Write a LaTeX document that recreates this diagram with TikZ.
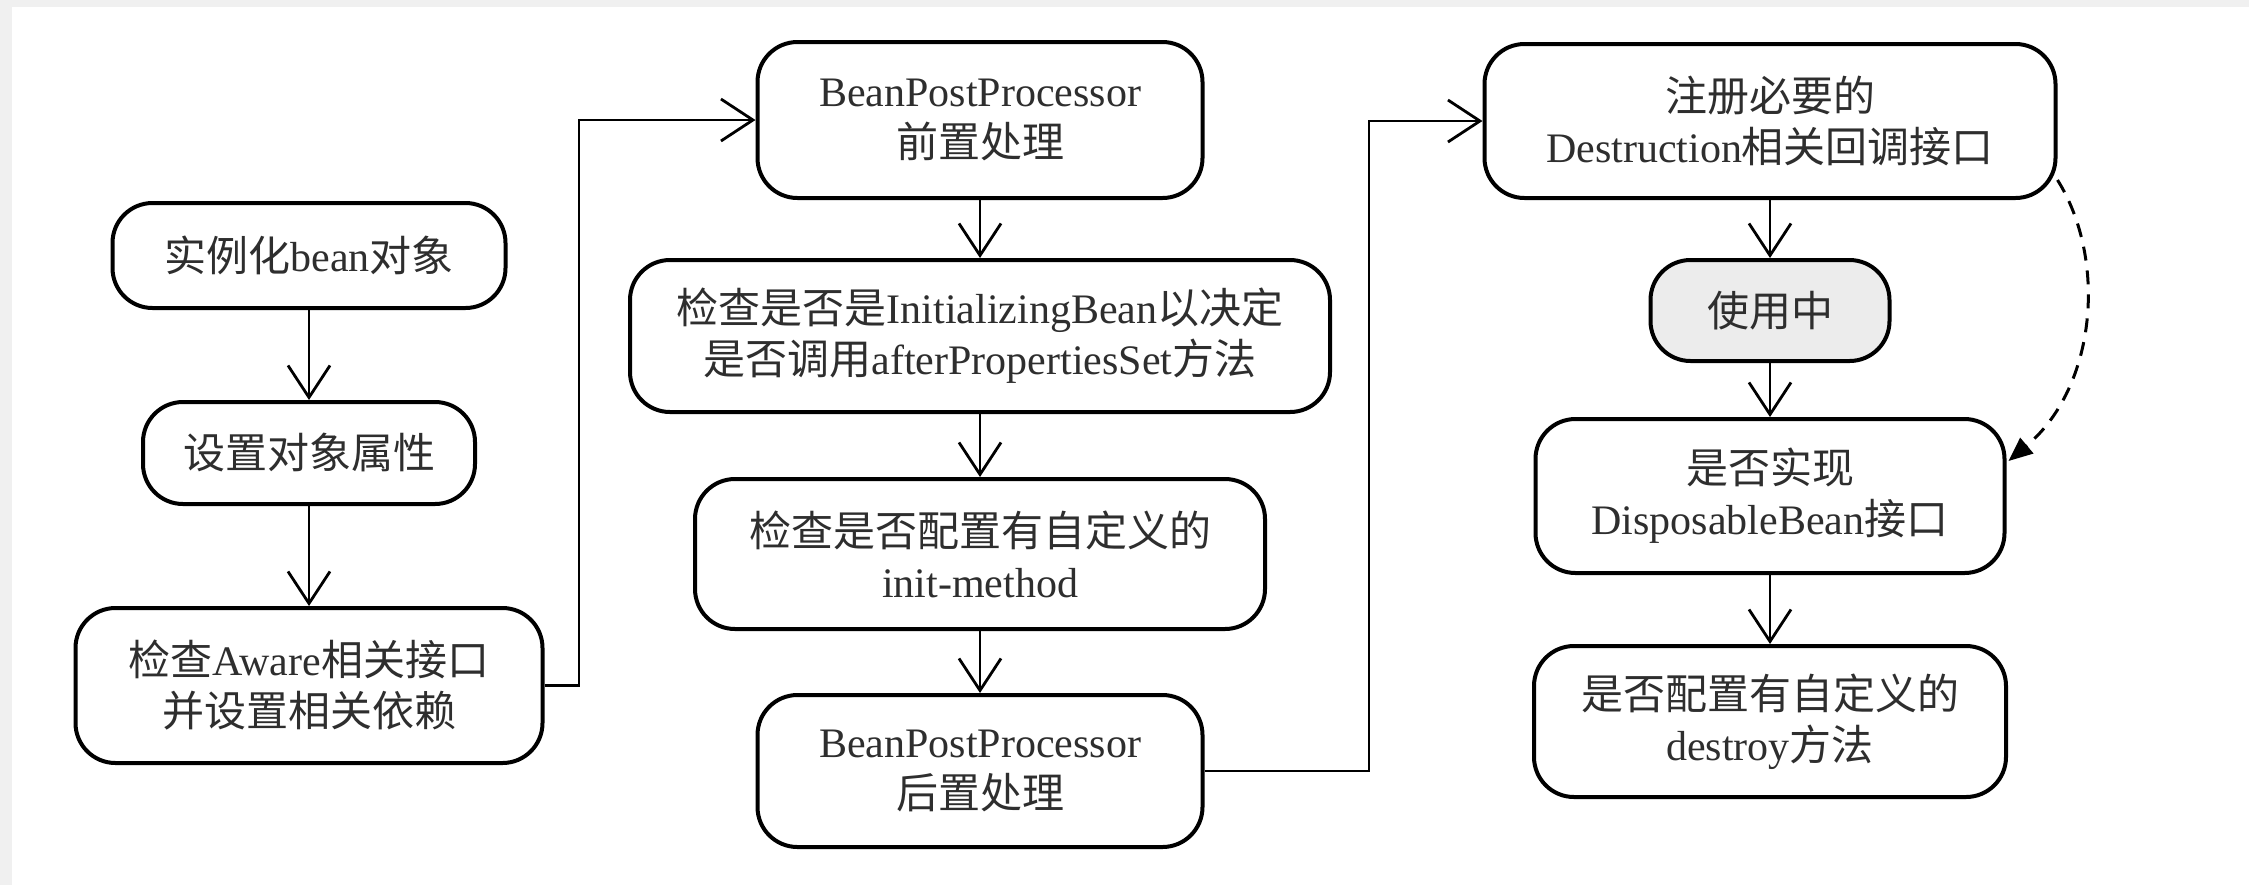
\documentclass[tikz,border=0pt]{standalone}
\usepackage{fontspec}
\setmainfont{Liberation Serif}
\newfontfamily\cjk{Noto Sans CJK SC}
\newcommand\zh[1]{{\cjk #1}}
\usetikzlibrary{arrows.meta,calc}
\begin{document}
\begin{tikzpicture}[x=0.5pt,y=-0.5pt,
  box/.style={draw, line width=2pt, rounded corners=20pt, align=center,
    inner sep=0pt, text=black!82, font=\fontsize{21}{25.5}\selectfont},
  arr/.style={line width=1.4pt, -{Straight Barb[length=16pt,width=21pt,line width=1.4pt]}},
  link/.style={line width=1.4pt},
  dasharr/.style={line width=1.5pt, dash pattern=on 7pt off 5pt, -{Triangle[length=12pt,width=10pt]}}]
\fill[gray!12] (0,0) rectangle (2249,885);
\fill[white] (12,7) rectangle (2249,885);
\useasboundingbox (0,0) rectangle (2249,885);

% left column
\node[box, minimum width=196.5pt, minimum height=52.5pt] (A) at (309,255.5) {\zh{实例化}bean\zh{对象}};
\node[box, minimum width=166pt, minimum height=51pt] (B) at (309,453) {\zh{设置对象属性}};
\node[box, minimum width=233.5pt, minimum height=77.5pt] (C) at (309,685.5) {\zh{检查}Aware\zh{相关接口}\\\zh{并设置相关依赖}};

% middle column
\node[box, minimum width=222.5pt, minimum height=78pt] (D) at (980,120) {BeanPostProcessor\\\zh{前置处理}};
\node[box, minimum width=350pt, minimum height=76pt] (E) at (980,336) {\zh{检查是否是}InitializingBean\zh{以决定}\\\zh{是否调用}afterPropertiesSet\zh{方法}};
\node[box, minimum width=285pt, minimum height=75pt] (F) at (980,554) {\zh{检查是否配置有自定义的}\\init-method};
\node[box, minimum width=222.5pt, minimum height=76pt] (G) at (980,771) {BeanPostProcessor\\\zh{后置处理}};

% right column
\node[box, minimum width=285.5pt, minimum height=77pt] (H) at (1770,121) {\zh{注册必要的}\\Destruction\zh{相关回调接口}};
\node[box, fill=gray!15, minimum width=119.5pt, minimum height=50.5pt] (I) at (1770,310.5) {\zh{使用中}};
\node[box, minimum width=234.5pt, minimum height=77pt] (J) at (1770,496) {\zh{是否实现}\\DisposableBean\zh{接口}};
\node[box, minimum width=236pt, minimum height=75.5pt] (K) at (1770,721.5) {\zh{是否配置有自定义的}\\destroy\zh{方法}};

% connectors
\draw[arr] (A.south) -- (B.north);
\draw[arr] (B.south) -- (C.north);
\draw[arr] (C.east) -- ++(34.5,0) |- (D.west);
\draw[arr] (D.south) -- (E.north);
\draw[arr] (E.south) -- (F.north);
\draw[arr] (F.south) -- (G.north);
\draw[arr] (G.east) -- ++(164.5,0) |- (H.west);
\draw[arr] (H.south) -- (I.north);
\draw[arr] (I.south) -- (J.north);
\draw[arr] (J.south) -- (K.north);
\draw[dasharr] ($(H.south east)+(0,-20)$) .. controls ($(H.south east)+(50,60)$) and ($(J.north east)+(90,-30)$) .. ($(J.north east)+(2,44)$);
\end{tikzpicture}
\end{document}
